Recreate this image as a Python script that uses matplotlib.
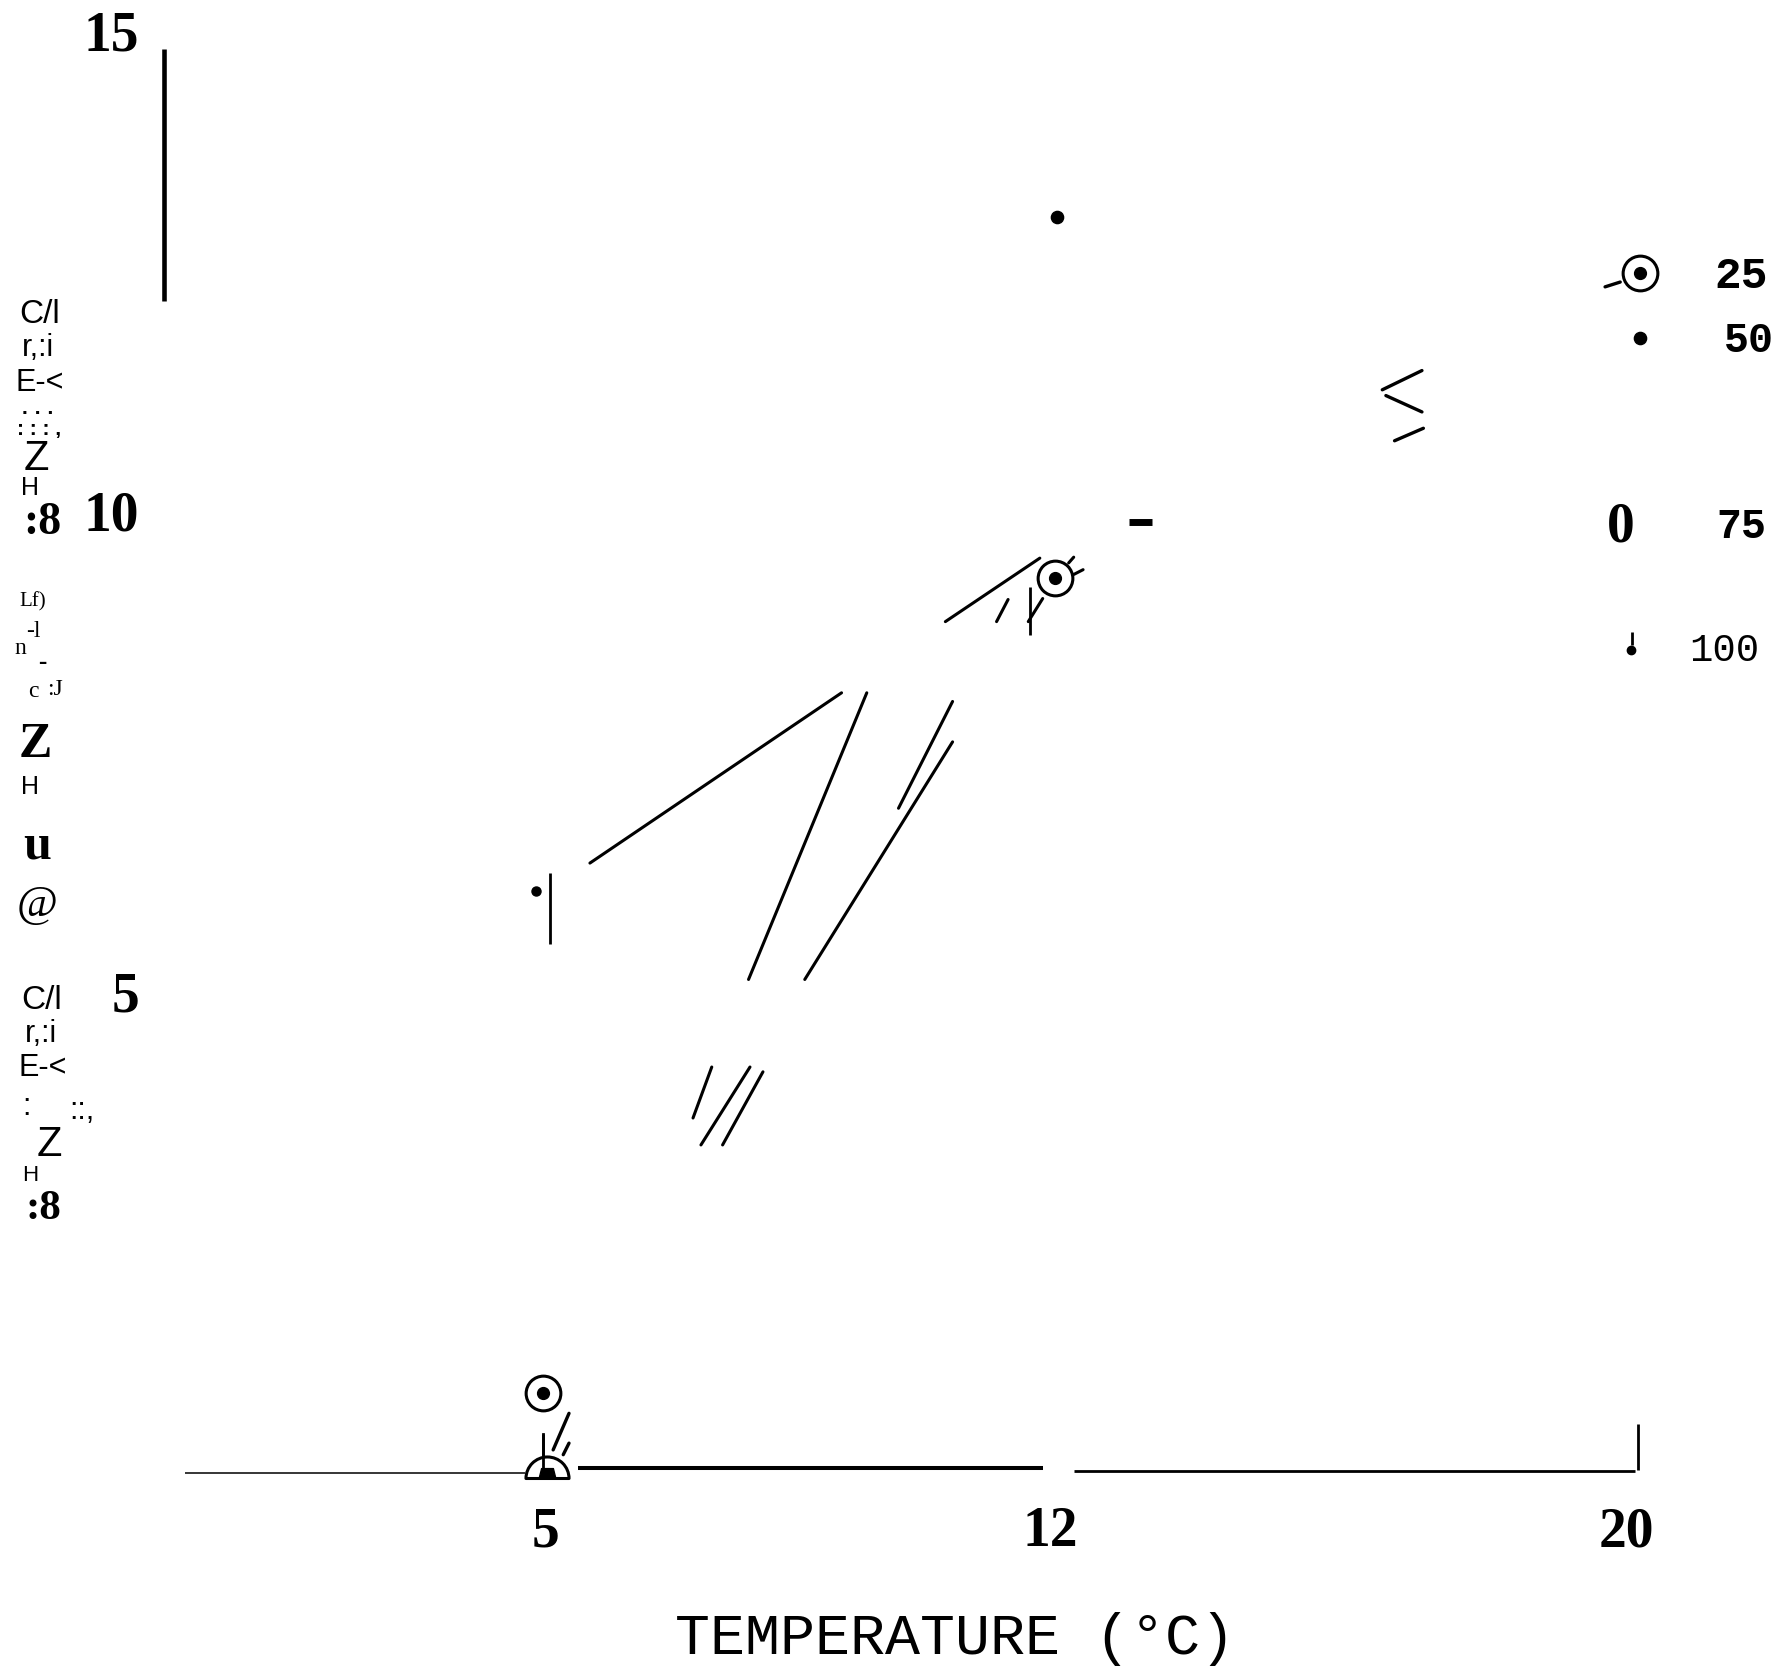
import matplotlib
matplotlib.use("Agg")
import matplotlib.pyplot as plt
from matplotlib.path import Path
import numpy as np

# ---------------- data ----------------
x_ticks = [5, 12, 20]
x_ticklabels = ["5", "12", "20"]
y_ticks = [5, 10, 15]
y_ticklabels = ["5", "10", "15"]
x_label = "TEMPERATURE (°C)"

# long hand-drawn strokes: start / end (temperature, y value)
stroke_x0 = [5.62, 9.46, 10.65, 10.65, 7.31, 7.84, 8.02, 10.55, 11.26, 11.90, 12.26, 12.33]
stroke_y0 = [6.34, 8.11, 8.02, 7.60, 4.22, 4.22, 4.17, 8.85, 8.85, 9.09, 9.46, 9.34]
stroke_x1 = [9.11, 7.82, 9.90, 8.60, 7.05, 7.16, 7.46, 11.86, 11.42, 11.70, 12.33, 12.46]
stroke_y1 = [8.11, 5.13, 6.91, 5.13, 3.69, 3.41, 3.41, 9.51, 9.08, 8.85, 9.52, 9.39]

# "<" shaped strokes near the legend
chev_x0 = [17.16, 16.66, 16.78]
chev_y0 = [11.46, 11.20, 10.73]
chev_x1 = [16.61, 17.16, 17.18]
chev_y1 = [11.26, 11.03, 10.86]

# small slanted strokes near the x=5 markers and legend symbol
slant_x0 = [5.33, 5.33, 19.70]
slant_y0 = [0.62, 0.31, 12.33]
slant_x1 = [5.11, 5.25, 19.91]
slant_y1 = [0.24, 0.19, 12.38]

# vertical bars: x, y bottom, y top
vbar_x = [5.06, 11.73, 4.97, 20.16, 20.08]
vbar_y0 = [5.50, 8.71, -0.05, 0.03, 8.61]
vbar_y1 = [6.24, 9.21, 0.40, 0.51, 8.74]

# left axis fragment
yaxis_x = -0.29
yaxis_y = [12.18, 14.80]

# baseline pieces: x start, x end, y
base_x0 = [0.0, 5.45, 12.33]
base_x1 = [4.72, 11.90, 20.12]
base_y = [0.0, 0.05, 0.02]

# bold dash
dash_x = [13.09, 13.42]
dash_y = [9.89, 9.89]

# markers
circdot_x = [4.97, 12.07, 20.18]
circdot_y = [0.83, 9.30, 12.47]
dot_x = [12.10, 20.19]
dot_y = [13.06, 11.80]
smalldot_x = [4.87]
smalldot_y = [6.05]
dome_x = [5.03]
dome_y = [-0.05]
drop_x = [20.06]
drop_y = [8.55]

legend_labels = ["25", "50", "75", "100"]

# ---------------- figure ----------------
W, H = 1781, 1672
fig = plt.figure(figsize=(W / 100, H / 100), dpi=100)
ax = fig.add_axes([0, 0, 1, 1])
ax.set_xlim(-2.562, 22.140)
ax.set_ylim(-2.069, 15.312)
ax.set_facecolor("white")

for s in ["top", "right"]:
    ax.spines[s].set_visible(False)
ax.spines["left"].set_position(("data", 0))
ax.spines["bottom"].set_position(("data", 0))
ax.spines["left"].set_visible(False)
ax.spines["bottom"].set_visible(False)

serif_bold = dict(family="Liberation Serif", weight="bold", size=40)
ax.set_xticks(x_ticks)
ax.set_xticklabels(x_ticklabels, fontdict=serif_bold)
ax.set_yticks(y_ticks)
ax.set_yticklabels(y_ticklabels, fontdict=serif_bold)
ax.tick_params(axis="x", length=0, pad=24)
ax.tick_params(axis="y", length=0, pad=33)

ax.set_xlabel(x_label, family="Liberation Mono", size=42, va="center")
ax.xaxis.set_label_coords(0.536, 0.0197)

k = "black"
# strokes
for x0, y0, x1, y1 in zip(stroke_x0, stroke_y0, stroke_x1, stroke_y1):
    ax.plot([x0, x1], [y0, y1], color=k, lw=2.2, solid_capstyle="round")
for x0, y0, x1, y1 in zip(chev_x0, chev_y0, chev_x1, chev_y1):
    ax.plot([x0, x1], [y0, y1], color=k, lw=2.4, solid_capstyle="round")
for x0, y0, x1, y1 in zip(slant_x0, slant_y0, slant_x1, slant_y1):
    ax.plot([x0, x1], [y0, y1], color=k, lw=2.4, solid_capstyle="round")
for xv, y0, y1 in zip(vbar_x, vbar_y0, vbar_y1):
    ax.plot([xv, xv], [y0, y1], color=k, lw=2.0, solid_capstyle="butt")

ax.plot([yaxis_x, yaxis_x], yaxis_y, color=k, lw=3.3, solid_capstyle="butt")

base_lw = [1.1, 2.9, 2.0]
for x0, x1, yb, lw in zip(base_x0, base_x1, base_y, base_lw):
    ax.plot([x0, x1], [yb, yb], color=k, lw=lw, solid_capstyle="butt")

ax.plot(dash_x, dash_y, color=k, lw=5.0, solid_capstyle="butt")

# dome marker (half circle)
arc = Path.arc(0, 180)
dome_path = Path(np.vstack([arc.vertices, [[1, 0]]]),
                 list(arc.codes) + [Path.CLOSEPOLY])
ax.plot(dome_x, dome_y, ls="none", marker=dome_path, ms=31, mfc="white",
        mec=k, mew=2.2, zorder=3)
base_path = Path([(-0.85, -0.5), (0.85, -0.5), (0.6, 0.5), (-0.6, 0.5), (-0.85, -0.5)],
                 [Path.MOVETO, Path.LINETO, Path.LINETO, Path.LINETO, Path.CLOSEPOLY])
ax.plot(dome_x, [v + 0.05 for v in dome_y], ls="none", marker=base_path, ms=12,
        color=k, zorder=4)
ax.plot([dome_x[0] - 0.06] * 2, [dome_y[0], 0.40], color=k, lw=2.0, zorder=5)

# circle-with-dot markers
ax.plot(circdot_x, circdot_y, ls="none", marker="o", ms=25, mfc="white",
        mec=k, mew=2.2, zorder=3)
ax.plot(circdot_x, circdot_y, ls="none", marker="o", ms=8.5, color=k, zorder=4)

# plain dots
ax.plot(dot_x, dot_y, ls="none", marker="o", ms=8.8, color=k, zorder=3)
ax.plot(smalldot_x, smalldot_y, ls="none", marker="o", ms=6.5, color=k, zorder=3)
ax.plot(drop_x, drop_y, ls="none", marker="o", ms=6, color=k, zorder=3)

# legend texts (layout positions in shown-image pixel coords)
def P(xs, ys):
    return xs / 1568, 1 - ys / 1472

mono = "Liberation Mono"
leg_pos = [(1533, 243, 32, "bold"), (1540, 300, 30, "bold"),
           (1533, 464, 30, "bold"), (1518, 573, 28, "normal")]
for lab, (lx, ly, sz, wt) in zip(legend_labels, leg_pos):
    fig.text(*P(lx, ly), lab, family=mono, size=sz, weight=wt,
             ha="center", va="center")
fig.text(*P(1427, 464), "0", family="Liberation Serif", weight="bold",
         size=40, ha="center", va="center")

# garbled vertical axis title (scanned/OCR fragments)
sans = "Liberation Sans"
serif = "Liberation Serif"
frags = [
    ("C/l", 35, 277, sans, 24, "normal"),
    ("r,:i", 33, 306, sans, 22, "normal"),
    ("E-<", 35, 337, sans, 22, "normal"),
    ("· · ·\n: : : ,", 34, 371, sans, 15, "bold"),
    ("Z", 32, 404, sans, 30, "normal"),
    ("H", 26, 430, sans, 18, "normal"),
    (":8", 37, 460, serif, 33, "bold"),
    ("Lf)", 29, 530, serif, 15, "normal"),
    ("n", 18, 571, serif, 17, "normal"),
    ("-l", 29, 556, serif, 17, "normal"),
    ("-", 37, 583, serif, 18, "bold"),
    ("c", 29, 609, serif, 17, "normal"),
    (":J", 48, 607, serif, 17, "normal"),
    ("Z", 31, 656, serif, 36, "bold"),
    ("H", 26, 693, sans, 18, "normal"),
    ("u", 33, 745, serif, 36, "bold"),
    ("@", 33, 797, serif, 32, "normal"),
    ("C/l", 37, 881, sans, 24, "normal"),
    ("r,:i", 36, 910, sans, 22, "normal"),
    ("E-<", 38, 940, sans, 22, "normal"),
    (":", 23, 975, sans, 22, "normal"),
    ("::,", 72, 978, sans, 22, "normal"),
    ("Z", 43, 1008, sans, 30, "normal"),
    ("H", 27, 1035, sans, 16, "normal"),
    (":8", 38, 1064, serif, 31, "bold"),
]
for t, fx, fy, fam, sz, wt in frags:
    fig.text(*P(fx, fy), t, family=fam, size=sz, weight=wt,
             ha="center", va="center", linespacing=0.8)

fig.savefig("out.png", dpi=100, facecolor="white")
